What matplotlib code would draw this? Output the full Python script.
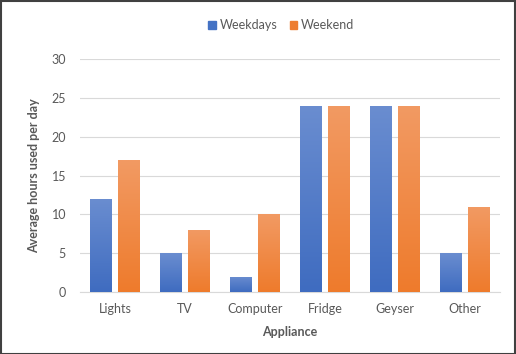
import matplotlib.pyplot as plt
import matplotlib.patches as mpatches
from matplotlib.colors import LinearSegmentedColormap
import numpy as np

appliances = ["Lights", "TV", "Computer", "Fridge", "Geyser", "Other"]
weekdays = [12, 5, 2, 24, 24, 5]
weekend = [17, 8, 10, 24, 24, 11]

plt.rcParams['font.family'] = ['Lato', 'DejaVu Sans']

fig = plt.figure(figsize=(5.16, 3.54), dpi=100)
ax = fig.add_axes([0.155, 0.175, 0.814, 0.658])

x = np.arange(len(appliances))
w = 0.31
off = 0.2

def gradient_bars(xpos, vals, top_col, base_col, label):
    bars = ax.bar(xpos, vals, width=w, color=base_col, label=label, zorder=2)
    cmap = LinearSegmentedColormap.from_list("g", [base_col, top_col])
    grad = np.linspace(0, 1, 100).reshape(-1, 1)
    for b in bars:
        x0, y0 = b.get_x(), b.get_y()
        im = ax.imshow(grad, cmap=cmap, aspect='auto', origin='lower',
                       extent=[x0, x0 + b.get_width(), y0, y0 + b.get_height()],
                       zorder=3)
        im.set_clip_path(b)
    return bars

gradient_bars(x - off, weekdays, "#6A8DD0", "#3F6CC0", "Weekdays")
gradient_bars(x + off, weekend, "#F29A63", "#EE7B2C", "Weekend")

ax.set_xlim(-0.5, len(appliances) - 0.5)
ax.set_ylim(0, 30)
ax.set_yticks(range(0, 31, 5))
ax.set_xticks(x)
ax.set_xticklabels(appliances)
ax.tick_params(length=0, colors="#595959", labelsize=9, pad=8)
ax.tick_params(axis='y', pad=10)
ax.grid(axis='y', color="#D9D9D9", linewidth=0.8, zorder=0)
ax.set_axisbelow(True)
for s in ['top', 'right', 'left']:
    ax.spines[s].set_visible(False)
ax.spines['bottom'].set_color("#D9D9D9")

ax.set_xlabel("Appliance", fontsize=9, fontweight='bold', color="#595959", labelpad=8)
ax.set_ylabel("Average hours used per day", fontsize=9, fontweight='bold', color="#595959", labelpad=8)

handles = [mpatches.Patch(color="#4472C4"), mpatches.Patch(color="#ED7D31")]
fig.legend(handles, ["Weekdays", "Weekend"], loc='center', bbox_to_anchor=(0.545, 0.928),
           ncol=2, frameon=False, fontsize=9, handlelength=0.6, handleheight=0.6,
           handletextpad=0.3, columnspacing=1.0, labelcolor="#595959")

fig.patches.append(mpatches.Rectangle((0.001, 0.001), 0.997, 0.997, transform=fig.transFigure,
                                      fill=False, edgecolor="#404040", linewidth=1.5))

fig.savefig("out.png", dpi=100)
